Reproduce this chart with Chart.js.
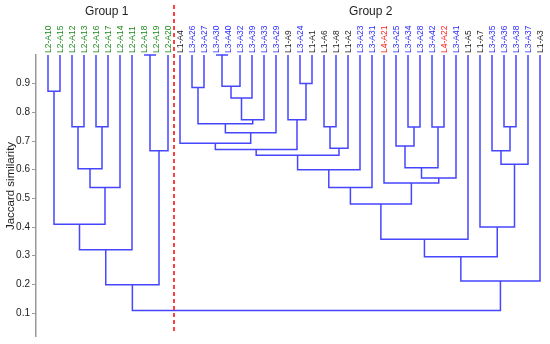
<!DOCTYPE html>
<html>
<head>
<meta charset="utf-8">
<script src="https://cdn.jsdelivr.net/npm/chart.js@4"></script>
<style>
  body { margin: 0; background: #fff; }
</style>
</head>
<body>
<canvas id="dendro" width="550" height="344"></canvas>
<script>
// leaf order as it appears along the top
const leaves = ['L2-A10','L2-A15','L2-A12','L2-A13','L2-A16','L2-A17','L2-A14','L2-A11','L2-A18','L2-A19','L2-A20',
  'L1-A4','L3-A26','L3-A27','L3-A30','L3-A40','L3-A32','L3-A39','L3-A33','L3-A29','L1-A9','L3-A24','L1-A1',
  'L1-A6','L1-A8','L1-A2','L3-A23','L3-A31','L4-A21','L3-A25','L3-A34','L3-A28','L3-A42','L4-A22','L3-A41',
  'L1-A5','L1-A7','L3-A35','L3-A36','L3-A38','L3-A37','L1-A3'];

// linkage: [left node, right node, similarity]; leaves are 0..41, new clusters numbered from 42
const links = [
  [0, 1, 0.874], [2, 3, 0.750], [4, 5, 0.750], [43, 44, 0.603], [45, 6, 0.538],
  [42, 46, 0.410], [47, 7, 0.321], [8, 9, 1.0], [49, 10, 0.666], [48, 50, 0.199],
  [14, 15, 1.0], [52, 16, 0.891], [53, 17, 0.850], [54, 18, 0.774], [12, 13, 0.887],
  [56, 55, 0.760], [57, 19, 0.729], [11, 58, 0.692], [21, 22, 0.901], [20, 60, 0.774],
  [59, 61, 0.670], [23, 24, 0.750], [63, 25, 0.675], [62, 64, 0.650], [65, 26, 0.600],
  [66, 27, 0.538], [30, 31, 0.749], [32, 33, 0.749], [29, 68, 0.683], [70, 69, 0.607],
  [71, 34, 0.571], [28, 72, 0.554], [67, 73, 0.480], [74, 35, 0.357], [38, 39, 0.750],
  [37, 76, 0.666], [77, 40, 0.619], [36, 78, 0.400], [75, 79, 0.296], [80, 41, 0.212],
  [51, 81, 0.109]
];

const yTicks = [0.1, 0.2, 0.3, 0.4, 0.5, 0.6, 0.7, 0.8, 0.9];
const groupTitles = ['Group 1', 'Group 2'];
const groupTitleAt = [4.9, 26.9];
const groupSplit = 10.5;

const prefixColors = { L1: '#1e1e1e', L2: '#1d8a1d', L3: '#2b2bff', L4: '#ff2020' };
const lineColor = '#4646ff';
const fontFam = '"Liberation Sans", Arial, sans-serif';

// walk the linkage, each merge becomes one bracket
let nodeX = leaves.map((_, i) => i);
let nodeH = leaves.map(() => 1.0);
let datasets = [];
links.forEach(([a, b, h]) => {
  datasets.push({
    data: [
      {x: nodeX[a], y: nodeH[a]}, {x: nodeX[a], y: h},
      {x: nodeX[b], y: h}, {x: nodeX[b], y: nodeH[b]}
    ],
    borderColor: lineColor,
    borderWidth: 1.5,
    showLine: true,
    pointRadius: 0,
    tension: 0,
    clip: false
  });
  nodeX.push((nodeX[a] + nodeX[b]) / 2);
  nodeH.push(h);
});

const groupPlugin = {
  id: 'groups',
  afterDatasetsDraw(chart) {
    const ctx = chart.ctx;
    const xs = chart.scales.x;
    const area = chart.chartArea;
    ctx.save();
    // red divider between the two groups
    ctx.strokeStyle = '#ff4040';
    ctx.lineWidth = 2;
    ctx.setLineDash([4, 3]);
    ctx.beginPath();
    let xp = xs.getPixelForValue(groupSplit);
    ctx.moveTo(xp, 5);
    ctx.lineTo(xp, area.bottom - 3);
    ctx.stroke();
    ctx.setLineDash([]);
    ctx.fillStyle = '#1e1e1e';
    ctx.font = '12px ' + fontFam;
    ctx.textAlign = 'center';
    ctx.textBaseline = 'middle';
    groupTitles.forEach((t, i) => ctx.fillText(t, xs.getPixelForValue(groupTitleAt[i]), 12));
    // axis title, sits a bit above the middle of the axis in the original
    ctx.font = '11.5px ' + fontFam;
    ctx.translate(11, 186);
    ctx.rotate(-Math.PI / 2);
    ctx.fillText('Jaccard similarity', 0, 0);
    ctx.restore();
  }
};

new Chart('dendro', {
  type: 'scatter',
  data: { datasets: datasets },
  plugins: [groupPlugin],
  options: {
    responsive: false,
    animation: false,
    layout: { padding: { left: 0, right: 4, top: 0, bottom: 6 } },
    plugins: {
      legend: { display: false },
      tooltip: { enabled: false }
    },
    scales: {
      x: {
        type: 'linear',
        position: 'top',
        min: -1,
        max: 41.5,
        afterBuildTicks: (scale) => { scale.ticks = leaves.map((_, i) => ({value: i})); },
        afterFit: (scale) => { scale.height = 55; },
        grid: { display: false, drawTicks: false },
        border: { display: false },
        ticks: {
          autoSkip: false,
          minRotation: 90,
          maxRotation: 90,
          padding: 2,
          labelOffset: 10.5,
          font: { family: fontFam, size: 8.5 },
          color: (c) => prefixColors[leaves[c.index].slice(0, 2)],
          callback: (value) => leaves[value]
        }
      },
      y: {
        min: 0.02,
        max: 1.0,
        afterBuildTicks: (scale) => { scale.ticks = yTicks.map(v => ({value: v})); },
        afterFit: (scale) => { scale.width = 36; },
        grid: { drawOnChartArea: false, drawTicks: true, tickLength: 4, color: '#9a9a9a' },
        border: { display: true, color: '#9a9a9a', width: 1.5 },
        ticks: {
          padding: 2,
          color: '#222',
          font: { family: fontFam, size: 10 },
          callback: (v) => v.toFixed(1)
        }
      }
    }
  }
});
</script>
</body>
</html>
